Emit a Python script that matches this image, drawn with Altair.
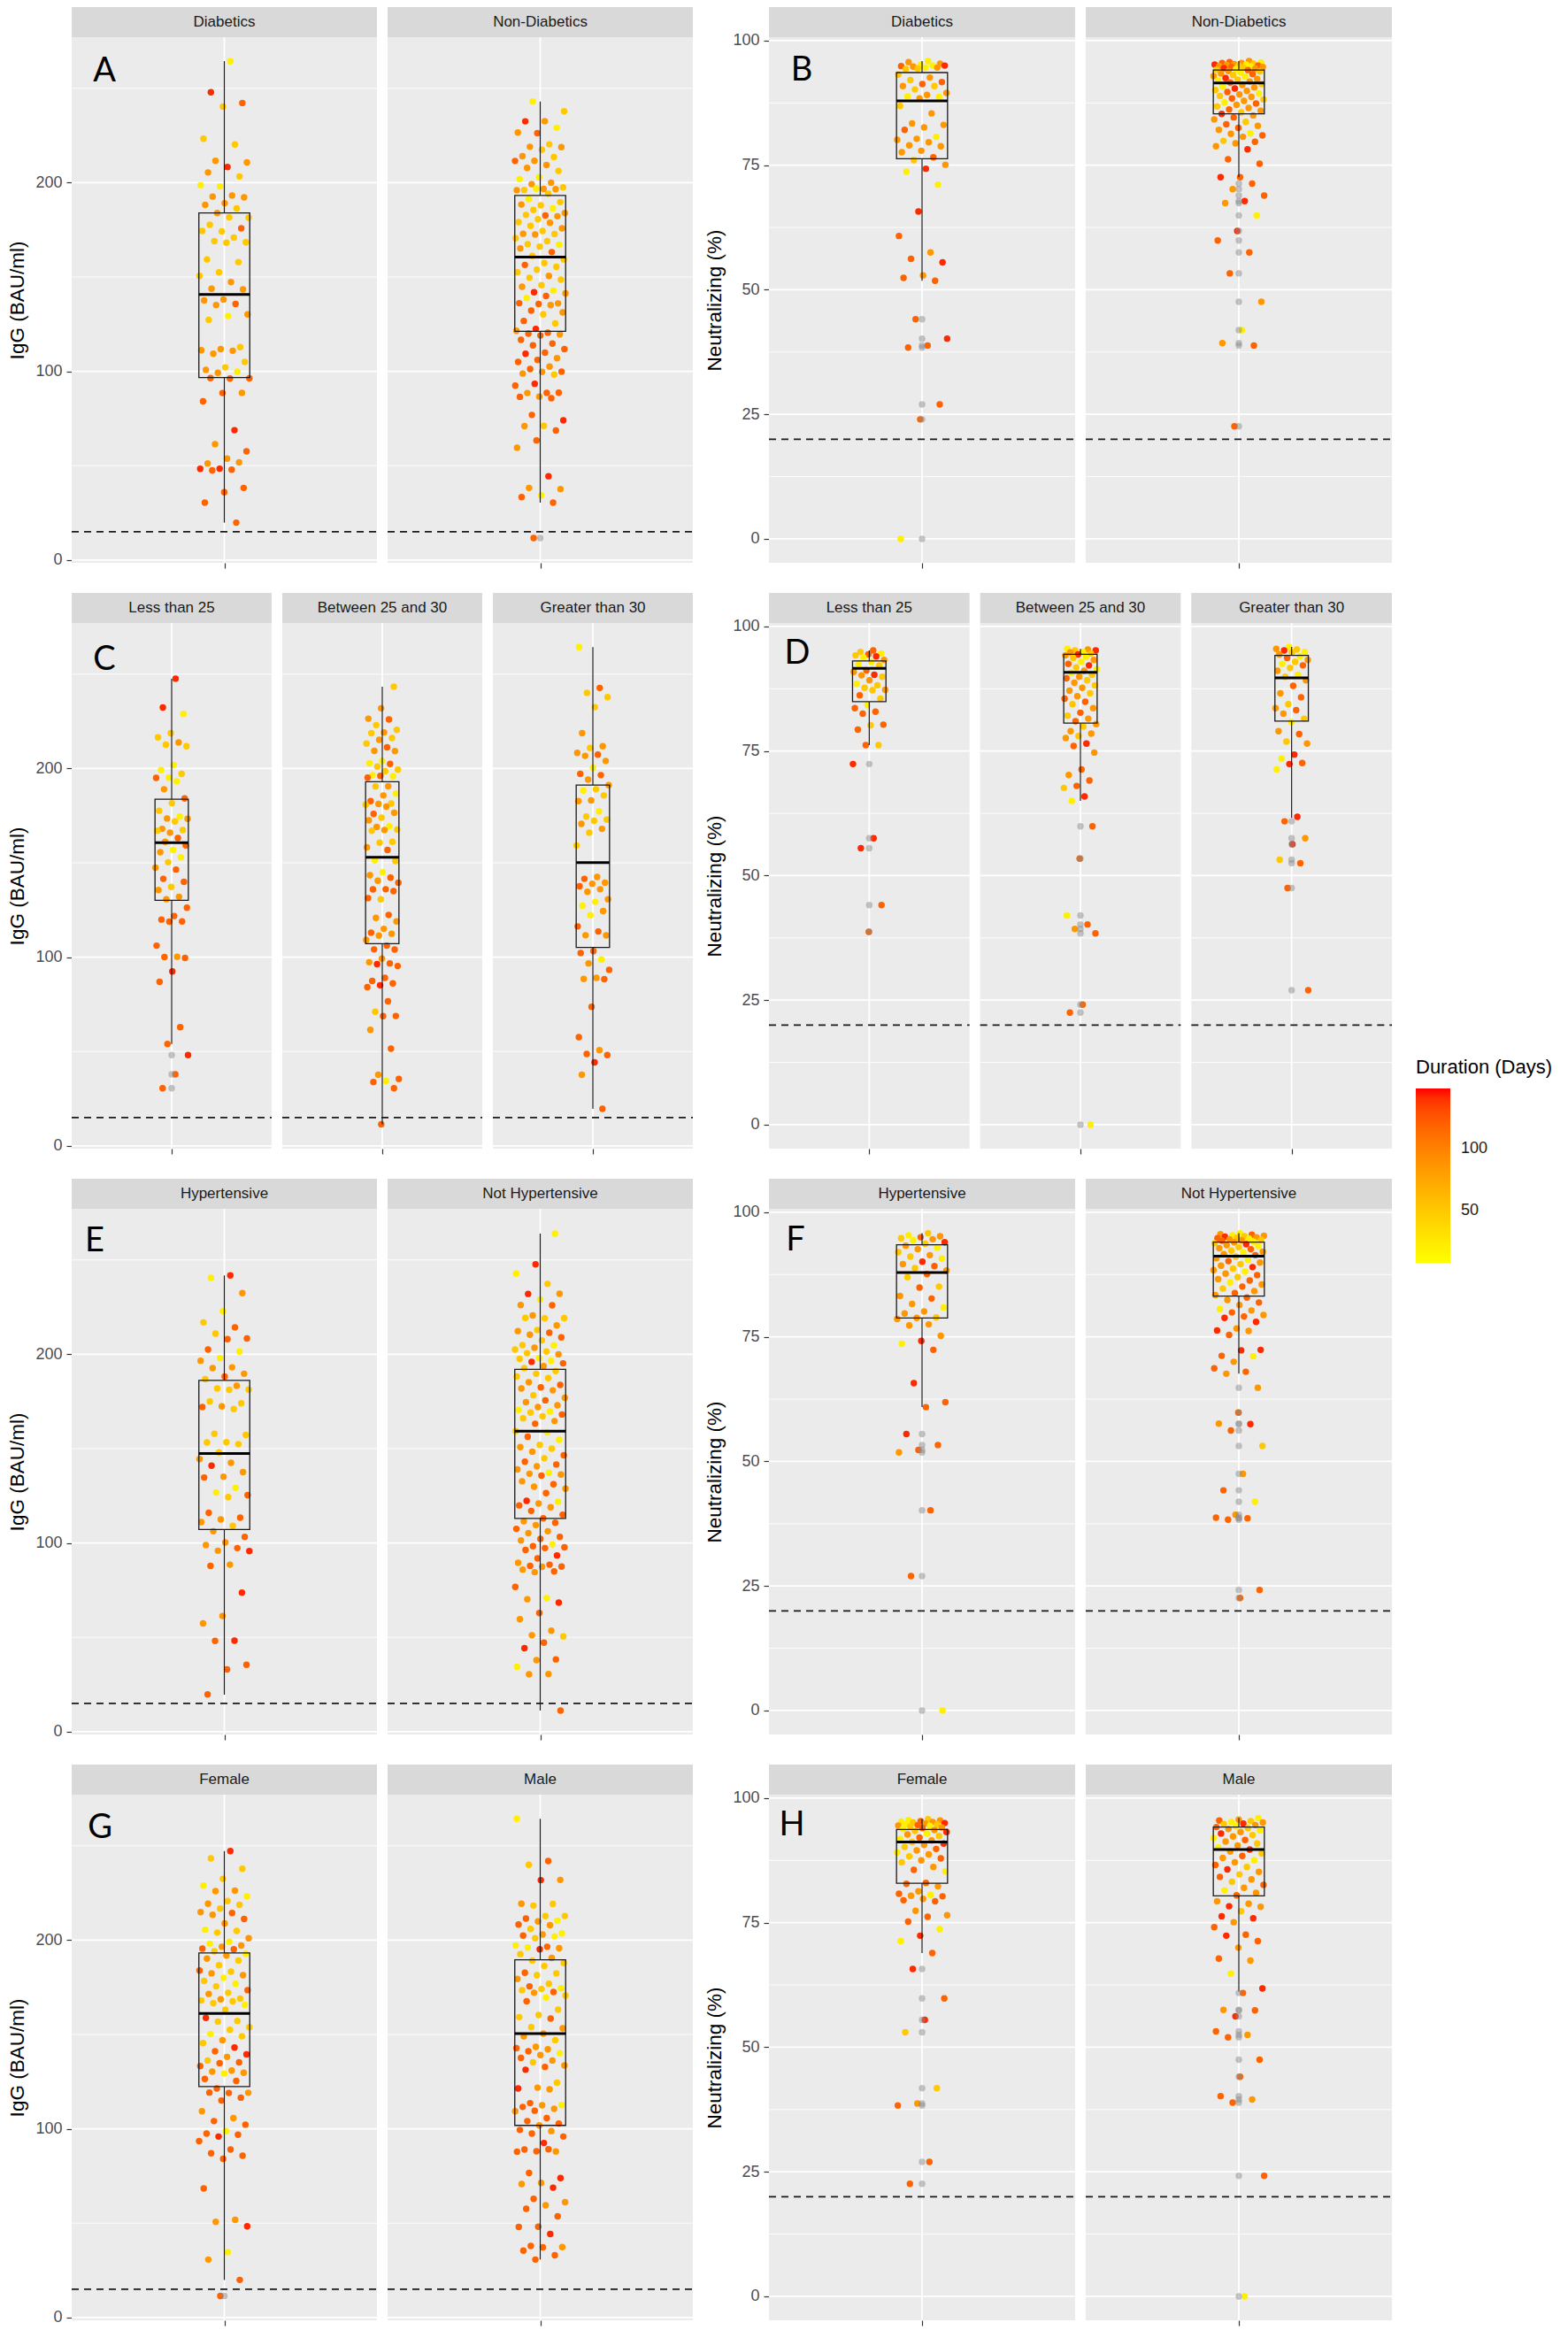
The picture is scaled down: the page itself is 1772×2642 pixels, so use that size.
import altair as alt
import pandas as pd

# duration colour classes (days)
Y, YO, O, RO, R = 20, 50, 85, 118, 142

# ---------------- A : IgG by diabetes ----------------
A_GROUPS = ["Diabetics", "Non-Diabetics"]
A_DIA = [(264.3,Y),(247.9,R),(242.2,RO),(240.3,YO),(223.3,YO),(220.2,YO),(211.6,O),(210.7,O),(208.3,R),(205.4,O),
         (203.3,YO),(198.0,Y),(198.6,Y),(193.2,O),(192.6,O),(192.2,O),(189.1,O),(188.2,O),(186.4,YO),(183.9,O),
         (181.4,YO),(181.6,YO),(177.7,YO),(175.8,RO),(174.2,YO),(174.4,YO),(170.9,YO),(169.0,YO),(168.4,YO),(168.2,YO),
         (159.3,YO),(157.9,YO),(152.5,YO),(150.6,YO),(147.3,O),(143.8,O),(143.4,O),(138.0,O),(137.6,O),(135.7,RO),
         (135.1,O),(130.2,O),(129.3,Y),(127.3,YO),(112.8,YO),(111.8,O),(111.2,O),(110.9,O),(109.3,O),(105.0,YO),
         (102.1,YO),(100.8,O),(99.8,Y),(99.2,O),(96.3,RO),(96.2,RO),(96.4,RO),(88.6,O),(88.5,RO),(84.1,RO),
         (68.8,R),(61.4,O),(57.6,RO),(53.7,O),(51.2,O),(51.7,O),(48.4,R),(48.3,R),(47.9,RO),(47.5,RO),
         (38.2,RO),(35.9,RO),(30.4,RO),(19.8,RO)]
A_NON = [(243.0,Y),(237.8,YO),(232.6,O),(232.5,R),(229.1,Y),(226.2,RO),(226.6,O),(220.3,YO),(219.0,O),(218.8,O),
         (217.4,YO),(214.0,O),(213.6,YO),(211.6,O),(211.5,RO),(209.3,O),(207.8,O),(206.2,YO),(202.9,Y),(201.9,Y),
         (200.0,O),(199.2,O),(197.5,YO),(196.7,O),(196.1,YO),(196.6,O),(196.8,Y),(196.0,O),(194.2,YO),(191.3,Y),
         (189.7,YO),(188.0,YO),(188.4,O),(186.4,Y),(185.5,YO),(183.9,O),(182.6,RO),(182.9,YO),(182.2,O),(180.6,YO),
         (179.1,YO),(178.7,O),(177.1,YO),(175.8,O),(174.4,YO),(172.9,O),(172.8,YO),(172.5,O),(170.5,YO),(169.0,YO),
         (167.4,YO),(167.1,Y),(166.1,YO),(165.1,O),(163.2,RO),(161.2,YO),(159.3,YO),(157.4,YO),(156.4,RO),(155.4,YO),
         (153.9,YO),(152.5,YO),(150.6,O),(149.6,YO),(148.6,YO),(145.7,YO),(144.8,O),(142.8,Y),(141.9,R),(141.3,O),
         (139.9,RO),(138.9,Y),(136.0,O),(135.7,RO),(136.1,RO),(135.1,O),(132.2,RO),(131.2,O),(130.2,YO),(126.7,RO),
         (125.4,YO),(122.5,R),(121.5,O),(120.5,RO),(120.0,RO),(119.6,O),(119.0,RO),(116.7,RO),(114.7,RO),(113.8,RO),
         (111.8,RO),(109.9,RO),(109.3,R),(107.0,O),(106.0,RO),(105.0,RO),(102.5,O),(101.2,RO),(99.8,RO),(99.7,O),
         (98.8,O),(98.3,YO),(93.4,R),(92.4,RO),(88.6,RO),(88.5,O),(88.7,RO),(86.6,O),(86.5,RO),(85.7,RO),
         (76.9,RO),(74.0,R),(71.1,YO),(71.0,O),(68.6,RO),(63.4,RO),(59.5,O),(44.4,R),(38.2,O),(37.6,O),
         (34.3,Y),(33.3,RO),(30.4,RO),(11.6,RO)]
# box statistics: (q1, median, q3, lower whisker, upper whisker)
A_BOX = [(96.7, 140.7, 183.9, 19.8, 264.4), (121.2, 160.5, 193.2, 30.4, 243.0)]

# ---------------- B : neutralizing by diabetes ----------------
B_DIA = [(95.9,Y),(95.7,O),(95.4,O),(95.1,Y),(94.9,RO),(95.0,Y),(94.8,O),(95.0,R),(94.6,Y),(94.3,YO),
         (94.6,O),(94.4,YO),(93.2,YO),(92.6,O),(92.1,YO),(91.7,RO),(91.3,RO),(90.9,O),(90.9,YO),(90.2,YO),
         (89.5,O),(89.1,O),(88.8,Y),(88.7,Y),(88.4,O),(86.9,YO),(85.4,O),(83.4,O),(83.1,O),(82.6,O),
         (82.1,RO),(80.7,Y),(80.3,O),(80.1,O),(79.6,O),(79.0,O),(78.8,O),(77.9,O),(77.6,O),(76.6,RO),
         (76.0,YO),(75.1,O),(74.3,R),(73.7,Y),(71.1,Y),(65.7,R),(60.8,RO),(57.5,O),(56.2,RO),(55.5,R),
         (52.9,O),(52.4,RO),(51.8,RO),(44.1,RO),(40.2,R),(38.8,RO),(38.4,RO),(27.0,RO),(24.0,RO),(0.0,Y)]
B_NON = [(95.9,O),(95.7,RO),(95.6,Y),(95.5,O),(95.5,RO),(95.4,YO),(95.3,O),(95.2,R),(95.2,Y),(95.1,O),
         (95.0,RO),(95.0,YO),(94.9,O),(94.8,Y),(94.7,RO),(94.7,O),(94.6,YO),(94.5,R),(94.4,O),(94.3,Y),
         (94.2,YO),(94.1,RO),(93.9,O),(93.8,YO),(93.6,Y),(93.4,O),(93.3,RO),(93.1,YO),(92.9,O),(92.8,Y),
         (92.5,R),(92.3,O),(92.2,YO),(92.0,Y),(91.8,O),(91.6,RO),(91.3,YO),(91.1,O),(90.8,Y),(90.6,O),
         (90.4,R),(90.1,YO),(89.9,O),(89.7,RO),(89.4,Y),(89.2,O),(88.9,YO),(88.7,O),(88.4,RO),(88.2,YO),
         (87.9,O),(87.6,Y),(87.4,RO),(87.1,O),(86.8,YO),(86.5,O),(86.2,RO),(85.9,O),(85.6,YO),(85.3,R),
         (85.0,O),(84.6,RO),(84.2,O),(83.7,YO),
         (83.2,RO),(82.9,O),(82.5,RO),(82.1,O),(81.4,Y),(81.3,O),(81.0,RO),(80.7,O),(79.9,YO),(79.7,RO),
         (79.4,O),(78.8,O),(78.2,R),(76.2,RO),(75.3,RO),(72.6,RO),(72.6,R),(71.3,RO),(70.2,O),(68.9,RO),
         (67.8,R),(67.4,O),(64.9,Y),(61.8,R),(59.9,RO),(57.5,RO),(53.3,RO),(47.6,O),(41.9,Y),(39.3,O),
         (38.8,RO),(22.6,RO)]
B_BOX = [(76.3, 87.9, 93.6, 51.8, 95.9), (85.3, 91.5, 94.1, 72.6, 95.9)]

# ---------------- C : IgG by BMI ----------------
C_GROUPS = ["Less than 25", "Between 25 and 30", "Greater than 30"]
C_LT25 = [(247.6,R),(232.3,R),(228.9,Y),(218.7,YO),(216.5,YO),(213.8,O),(212.6,YO),(211.8,YO),(201.8,Y),(199.1,Y),
          (197.1,YO),(195.1,Y),(195.0,RO),(193.2,Y),(189.0,O),(184.1,RO),(181.6,YO),(177.6,YO),(174.5,Y),(173.5,O),
          (173.3,O),(171.9,YO),(168.0,O),(167.4,YO),(166.0,O),(167.0,YO),(163.1,RO),(161.1,O),(159.2,RO),(156.8,Y),
          (155.6,O),(152.9,Y),(150.3,YO),(147.4,O),(146.4,RO),(141.5,RO),(139.9,RO),(137.2,YO),(135.6,O),(132.0,O),
          (130.7,O),(126.2,RO),(121.8,RO),(119.9,RO),(118.9,RO),(118.8,RO),(106.1,RO),(100.2,O),(100.1,RO),(99.6,RO),
          (92.4,R),(86.9,RO),(62.9,RO),(54.0,RO),(48.1,R),(37.9,RO),(30.5,RO)]
C_MID = [(243.3,YO),(231.9,O),(226.4,O),(226.0,RO),(223.0,YO),(220.5,YO),(219.1,O),(218.7,YO),(216.1,YO),(215.2,O),
         (213.2,YO),(211.2,RO),(209.3,O),(209.2,O),(204.0,Y),(202.8,Y),(202.4,RO),(201.0,YO),(199.4,YO),(198.5,YO),
         (196.5,Y),(195.9,Y),(196.1,RO),(195.1,RO),(190.6,O),(190.5,YO),(186.7,Y),(185.7,O),(182.7,RO),(181.4,YO),
         (181.2,O),(180.8,YO),(179.8,O),(175.9,RO),(176.5,O),(173.9,YO),(172.5,O),(169.4,Y),(169.0,O),(167.6,YO),
         (167.4,O),(167.0,YO),(161.1,YO),(160.7,YO),(158.2,O),(156.8,RO),(151.3,Y),(150.9,YO),(145.0,Y),(143.4,O),
         (142.1,RO),(140.5,O),(139.5,RO),(136.0,RO),(135.9,RO),(135.0,RO),(130.7,YO),(131.3,RO),(122.4,RO),(120.8,O),
         (118.9,O),(115.0,O),(113.0,RO),(112.4,O),(111.4,O),(109.1,O),(106.1,RO),(104.1,RO),(104.0,RO),(99.2,O),
         (97.3,O),(96.7,RO),(96.3,R),(95.3,RO),(89.0,RO),(87.4,RO),(86.1,RO),(85.1,R),(84.1,RO),(76.6,RO),
         (71.1,YO),(68.8,RO),(68.7,RO),(61.5,O),(51.5,RO),(37.7,O),(35.4,RO),(34.4,Y),(33.8,RO),(30.5,RO),
         (11.4,RO)]
C_GT30 = [(264.3,Y),(242.7,RO),(240.1,YO),(237.8,YO),(232.5,YO),(218.7,O),(211.8,O),(210.9,YO),(208.3,O),(207.3,RO),
          (206.7,O),(204.0,O),(200.4,Y),(197.1,RO),(196.5,RO),(194.1,O),(191.2,O),(189.0,YO),(188.3,Y),(185.7,YO),
          (183.1,O),(182.7,O),(177.2,Y),(174.5,YO),(172.9,YO),(172.3,YO),(170.6,O),(168.0,O),(166.0,YO),(159.2,YO),
          (142.5,O),(141.5,RO),(139.5,O),(138.9,O),(137.6,RO),(136.0,O),(134.6,O),(130.7,O),(129.3,Y),(127.3,Y),
          (124.4,O),(122.2,Y),(116.3,RO),(113.6,RO),(111.6,O),(111.5,O),(103.2,RO),(102.2,RO),(98.8,Y),(96.7,O),
          (93.3,RO),(89.0,O),(88.4,O),(88.3,RO),(73.7,RO),(57.6,RO),(50.7,O),(48.7,RO),(48.1,RO),(44.2,R),
          (37.7,O),(19.6,RO)]
C_BOX = [(130.1, 160.7, 183.7, 54.0, 247.6), (107.1, 152.9, 193.0, 11.4, 243.3), (105.1, 150.1, 191.2, 19.6, 264.3)]

# ---------------- D : neutralizing by BMI ----------------
D_LT25 = [(95.2,RO),(94.9,YO),(94.6,Y),(94.4,RO),(94.2,YO),(94.0,R),(93.8,Y),(93.3,O),(92.9,Y),(92.5,Y),
          (92.2,YO),(91.2,RO),(90.9,O),(90.3,R),(90.2,O),(89.9,YO),(89.2,O),(88.5,Y),(88.2,YO),(87.7,YO),
          (87.3,O),(87.2,YO),(86.2,RO),(85.5,YO),(84.2,Y),(83.6,RO),(82.9,RO),(82.5,RO),(80.3,RO),(80.2,YO),
          (79.3,RO),(76.2,YO),(76.2,RO),(72.4,R),(57.5,R),(55.5,R),(44.1,RO),(38.7,RO)]
D_MID = [(95.5,Y),(95.4,O),(95.2,YO),(95.2,R),(94.9,Y),(94.8,O),(94.6,YO),(94.4,R),(94.2,O),(93.9,Y),
         (93.7,YO),(93.3,O),(92.9,Y),(92.5,RO),(92.2,R),(91.8,YO),(91.4,Y),(91.1,O),(90.7,Y),(90.3,YO),
         (89.9,O),(89.6,RO),(89.2,YO),(88.7,O),(88.2,YO),(87.7,O),(87.1,O),(86.6,YO),(86.0,O),(85.5,RO),
         (84.9,RO),(84.4,YO),(83.6,O),(82.7,RO),(82.1,YO),(81.5,O),(81.0,RO),(80.4,O),(79.9,YO),(79.0,O),
         (78.5,O),(78.0,YO),(77.6,O),(76.5,R),(76.0,RO),
         (74.7,O),(71.3,RO),(70.2,O),(69.1,RO),(68.0,RO),(67.6,YO),(65.9,R),(65.0,Y),(59.9,RO),(53.4,RO),
         (42.0,Y),(40.2,RO),(39.3,O),(38.4,RO),(24.1,RO),(22.5,RO),(0.0,Y)]
D_GT30 = [(95.9,Y),(95.5,O),(95.4,YO),(95.2,R),(94.9,Y),(94.8,YO),(94.4,O),(94.0,Y),(93.7,RO),(93.3,O),
          (92.9,YO),(92.5,Y),(92.2,RO),(91.7,YO),(91.1,O),(90.3,Y),(89.9,YO),(89.2,O),(88.1,RO),(86.6,O),
          (85.8,RO),(84.4,YO),(83.6,O),(83.2,RO),(82.5,O),(81.5,YO),(80.8,Y),
          (79.0,O),(78.4,RO),(76.9,YO),(76.5,O),(74.3,R),(73.5,Y),(72.6,RO),(72.4,R),(71.3,Y),(61.8,R),
          (60.9,RO),(57.5,O),(56.3,R),(53.2,YO),(52.5,RO),(47.5,RO),(27.0,RO)]
D_BOX = [(84.9, 91.6, 93.1, 76.2, 95.2), (80.6, 90.8, 94.4, 65.0, 95.5), (81.0, 89.7, 94.2, 61.6, 95.9)]

# ---------------- E : IgG by hypertension ----------------
E_GROUPS = ["Hypertensive", "Not Hypertensive"]
E_HYP = [(241.8,R),(240.5,Y),(232.4,O),(222.8,Y),(216.9,YO),(214.3,RO),(211.0,YO),(208.4,RO),(208.0,RO),(202.5,RO),
         (201.5,Y),(198.0,Y),(196.6,O),(193.1,O),(192.7,O),(189.7,O),(188.2,RO),(186.8,YO),(183.3,O),(181.9,YO),
         (181.3,YO),(181.2,YO),(175.0,YO),(174.0,YO),(172.4,O),(172.0,RO),(171.0,YO),(157.9,YO),(157.3,YO),(153.4,YO),
         (153.3,YO),(152.4,YO),(148.0,YO),(144.5,O),(142.5,O),(141.0,R),(137.6,O),(135.1,O),(134.7,RO),(129.2,Y),
         (126.8,Y),(125.4,RO),(124.3,YO),(116.0,RO),(113.4,RO),(112.5,O),(111.1,O),(109.1,YO),(106.2,O),(103.2,RO),
         (100.3,O),(98.9,O),(97.3,RO),(95.9,O),(95.7,R),(88.5,O),(87.9,RO),(73.7,R),(61.3,O),(57.4,O),
         (48.2,R),(48.1,RO),(35.4,RO),(33.0,RO),(19.7,RO)]
E_NOT = [(264.0,Y),(247.7,R),(242.8,Y),(237.3,YO),(232.0,R),(232.1,O),(229.1,Y),(226.1,O),(226.0,RO),(220.6,O),
         (219.2,YO),(219.1,YO),(219.3,YO),(215.3,O),(212.9,YO),(212.3,O),(211.4,RO),(210.4,O),(209.0,RO),(207.4,YO),
         (204.9,YO),(204.8,Y),(203.5,O),(202.5,YO),(201.5,YO),(200.6,YO),(200.0,O),(198.0,Y),(197.6,YO),(196.6,Y),
         (196.0,R),(195.2,RO),(193.7,O),(192.7,YO),(191.1,YO),(189.7,YO),(188.2,YO),(187.4,YO),(185.2,O),(183.8,RO),
         (182.5,RO),(181.9,O),(180.9,O),(178.3,YO),(177.0,O),(175.6,RO),(174.6,O),(173.0,O),(172.0,O),(170.5,Y),
         (169.7,Y),(169.1,YO),(168.1,RO),(167.1,YO),(166.1,YO),(164.6,O),(163.2,RO),(159.3,YO),(158.7,Y),(156.3,RO),
         (154.7,Y),(152.0,YO),(150.8,O),(150.0,YO),(148.4,O),(146.5,RO),(144.9,YO),(143.1,RO),(141.6,RO),(140.6,O),
         (139.0,O),(137.2,Y),(136.7,O),(136.3,O),(135.7,RO),(132.7,O),(131.1,RO),(129.8,O),(128.8,O),(126.4,RO),
         (122.3,R),(121.9,Y),(120.9,O),(119.9,RO),(118.9,O),(117.0,RO),(115.0,RO),(113.1,RO),(111.5,O),(110.7,RO),
         (109.5,O),(107.5,RO),(106.2,O),(105.2,O),(103.2,RO),(102.2,RO),(101.3,O),(99.3,Y),(98.3,RO),(97.7,RO),
         (97.3,RO),(96.3,RO),(93.4,R),(91.8,RO),(89.5,O),(88.5,RO),(87.9,RO),(87.5,RO),(87.4,O),(85.9,O),
         (84.9,RO),(84.5,O),(76.7,RO),(70.8,Y),(70.2,O),(68.4,R),(62.9,RO),(59.6,O),(53.5,O),(51.1,O),
         (50.5,YO),(47.2,RO),(44.2,R),(38.3,RO),(37.9,O),(34.4,Y),(30.5,O),(30.4,O),(11.2,RO)]
E_BOX = [(107.1, 147.4, 186.2, 19.6, 241.8), (113.0, 159.3, 192.0, 11.2, 264.0)]

# ---------------- F : neutralizing by hypertension ----------------
F_HYP = [(95.8,YO),(95.4,Y),(95.2,O),(95.0,RO),(94.8,YO),(94.6,O),(94.4,Y),(94.0,R),(93.7,YO),(93.3,O),
         (92.9,Y),(92.6,O),(92.0,YO),(91.4,O),(91.1,YO),(90.7,Y),(90.1,R),(89.6,O),(89.2,RO),(88.8,YO),
         (88.3,O),(87.6,RO),(87.0,YO),(85.1,YO),(84.9,RO),(83.2,O),(82.7,RO),(81.6,O),(80.9,Y),(80.1,O),
         (79.7,O),(78.9,YO),(78.8,O),(78.6,O),(77.5,O),(77.3,O),(75.2,O),(74.2,R),(73.6,Y),(72.4,RO),
         (65.7,R),(61.9,RO),(60.9,RO),(55.5,R),(53.3,RO),(52.3,RO),(51.8,O),(40.2,RO),(27.0,RO),(0.0,Y)]
F_NOT = [(95.8,Y),(95.6,O),(95.5,RO),(95.4,Y),(95.3,O),(95.2,YO),(95.1,R),(95.0,O),(94.9,YO),(94.8,RO),
         (94.7,Y),(94.6,O),(94.5,YO),(94.4,O),(94.3,RO),(94.1,Y),(94.0,O),(93.8,YO),(93.6,R),(93.4,O),
         (93.2,Y),(93.0,YO),(92.8,O),(92.6,RO),(92.3,YO),(92.1,O),(91.9,Y),(91.6,O),(91.4,RO),(91.1,YO),
         (90.8,O),(90.5,Y),(90.2,RO),(89.9,O),(89.6,YO),(89.3,O),(89.0,R),(88.7,YO),(88.4,O),(88.1,Y),
         (87.7,O),(87.4,RO),(87.0,YO),(86.6,O),(86.3,RO),(85.9,Y),(85.5,O),(85.1,RO),(84.7,YO),(84.2,O),
         (83.8,RO),(83.4,O),
         (82.9,RO),(82.4,O),(81.9,RO),(81.4,O),(80.6,Y),(80.3,O),(79.9,RO),(79.4,O),(79.1,RO),(78.8,R),
         (78.0,R),(76.7,O),(76.3,R),(76.2,O),(75.4,RO),(72.4,R),(72.3,R),(71.2,RO),(71.1,Y),(70.0,O),
         (68.7,RO),(68.0,RO),(67.6,O),(64.8,O),(59.8,RO),(57.6,O),(57.5,R),(56.2,RO),(53.1,YO),(47.5,O),
         (44.2,RO),(41.9,Y),(39.3,O),(38.7,RO),(38.6,RO),(38.3,RO),(24.2,RO),(22.6,RO)]
F_BOX = [(78.8, 87.9, 93.5, 60.9, 95.8), (83.2, 91.2, 94.0, 67.6, 95.8)]

# ---------------- G : IgG by sex ----------------
G_GROUPS = ["Female", "Male"]
G_FEM = [(247.2,R),(243.3,YO),(237.8,YO),(232.5,YO),(228.9,Y),(226.2,O),(226.0,O),(223.2,Y),(220.7,YO),(219.3,O),
         (218.7,YO),(216.7,YO),(214.8,O),(214.4,RO),(213.4,O),(211.2,RO),(208.9,O),(205.5,Y),(204.9,YO),(204.0,YO),
         (201.0,O),(199.1,Y),(198.1,Y),(197.1,O),(196.5,O),(195.5,RO),(195.1,RO),(194.1,YO),(192.8,Y),(191.8,O),
         (190.2,O),(189.2,YO),(186.7,YO),(183.9,RO),(183.3,YO),(182.4,O),(181.4,O),(180.0,Y),(178.4,YO),(176.9,Y),
         (175.5,YO),(173.5,RO),(172.1,YO),(171.5,O),(169.0,YO),(168.6,O),(168.0,YO),(167.6,YO),(166.6,YO),(165.7,Y),
         (163.1,YO),(158.8,R),(157.2,YO),(156.8,YO),(153.9,YO),(152.5,YO),(150.3,Y),(149.0,YO),(147.0,O),(145.4,YO),
         (143.1,R),(141.1,RO),(139.5,R),(138.1,O),(136.2,YO),(135.2,RO),(134.8,RO),(133.2,RO),(130.9,O),(130.3,O),
         (129.7,O),(129.3,Y),(126.4,RO),(125.4,RO),(121.4,RO),(119.1,O),(119.0,RO),(119.2,RO),(116.5,RO),(115.0,RO),
         (109.3,O),(105.7,O),(104.1,RO),(102.2,RO),(98.8,Y),(97.5,RO),(96.9,RO),(95.9,R),(93.5,RO),(89.0,RO),
         (87.0,RO),(85.7,RO),(84.1,RO),(68.4,RO),(51.7,O),(50.7,O),(48.3,R),(34.6,Y),(30.7,O),(19.9,RO),
         (11.4,RO)]
G_MAL = [(264.3,Y),(241.9,RO),(239.9,YO),(231.9,O),(231.8,R),(219.3,O),(219.2,YO),(218.3,YO),(212.8,YO),(212.7,YO),
         (211.4,RO),(210.3,Y),(209.9,O),(208.3,RO),(207.9,O),(205.9,YO),(203.6,Y),(203.0,O),(202.4,RO),(202.0,Y),
         (201.0,YO),(197.1,Y),(196.5,RO),(196.1,Y),(195.7,O),(195.1,R),(192.6,YO),(190.6,O),(189.2,YO),(187.9,YO),
         (186.3,YO),(182.7,RO),(182.4,YO),(181.4,YO),(179.4,O),(176.9,YO),(175.5,RO),(174.5,Y),(174.1,YO),(173.5,YO),
         (172.5,RO),(172.1,O),(170.6,YO),(169.6,Y),(167.6,RO),(163.1,YO),(160.3,YO),(159.2,YO),(158.4,RO),(153.9,YO),
         (153.3,O),(150.5,O),(149.0,O),(147.0,YO),(143.4,O),(142.7,RO),(142.1,O),(141.1,RO),(140.1,Y),(139.1,O),
         (137.6,RO),(136.2,O),(135.2,YO),(133.6,O),(132.8,RO),(131.3,R),(124.4,YO),(121.8,O),(121.4,R),(120.9,O),
         (113.6,RO),(112.6,Y),(112.5,O),(111.6,RO),(110.6,O),(109.6,RO),(109.3,O),(105.7,RO),(104.1,RO),(102.8,RO),
         (101.8,O),(99.4,RO),(98.8,O),(97.5,RO),(95.9,RO),(92.5,R),(89.0,RO),(88.0,O),(88.1,RO),(87.9,RO),
         (89.1,RO),(76.6,RO),(73.9,R),(71.3,O),(70.7,O),(68.8,R),(62.9,RO),(61.1,O),(59.5,O),(57.6,RO),
         (53.6,RO),(48.1,RO),(48.0,RO),(44.2,R),(37.9,RO),(37.3,O),(37.2,RO),(35.4,RO),(33.0,RO),(30.7,RO)]
G_BOX = [(122.4, 161.1, 193.2, 19.9, 247.2), (101.8, 150.5, 189.6, 30.7, 264.3)]

# ---------------- H : neutralizing by sex ----------------
H_FEM = [(95.8,YO),(95.6,Y),(95.5,O),(95.4,RO),(95.3,Y),(95.2,O),(95.1,YO),(95.0,R),(94.9,O),(94.8,Y),
         (94.7,YO),(94.6,RO),(94.5,O),(94.4,Y),(94.3,YO),(94.1,O),(94.0,RO),(93.8,Y),(93.6,O),(93.4,YO),
         (93.2,R),(92.9,Y),(92.7,O),(92.4,YO),(92.1,RO),(91.8,Y),(91.5,O),(91.2,YO),(90.9,R),(90.6,O),
         (90.2,YO),(89.8,RO),(89.5,O),(89.1,Y),(88.7,O),(88.3,YO),(87.9,RO),(87.5,O),(87.1,YO),
         (86.2,O),(85.6,RO),(85.3,Y),(83.0,RO),(82.8,RO),(82.3,O),(81.3,O),(80.8,RO),(80.6,Y),(80.4,O),
         (80.3,RO),(79.8,O),(79.5,RO),(79.3,RO),(77.4,O),(76.5,O),(76.2,RO),(75.2,RO),(73.7,Y),(72.4,R),
         (71.3,Y),(68.9,RO),(65.7,R),(59.8,RO),(55.5,R),(53.0,YO),(41.8,YO),(38.7,O),(38.3,RO),(27.0,RO),
         (22.6,RO)]
H_MAL = [(96.0,Y),(95.7,O),(95.5,RO),(95.4,YO),(95.2,Y),(95.1,O),(94.9,R),(94.8,YO),(94.6,O),(94.4,Y),
         (94.2,RO),(94.0,YO),(93.8,O),(93.5,Y),(93.2,O),(92.9,R),(92.6,YO),(92.3,O),(92.0,Y),(91.6,RO),
         (91.3,O),(90.9,YO),(90.5,O),(90.1,Y),(89.7,R),(89.3,O),(88.9,YO),(88.4,RO),(88.0,O),(87.5,Y),
         (87.1,O),(86.6,RO),(86.2,YO),(85.7,R),(85.2,O),(84.7,YO),(84.2,RO),(83.7,O),(83.2,YO),(82.6,RO),
         (82.0,O),(81.5,Y),(81.0,O),(80.5,RO),
         (79.3,O),(78.8,O),(78.3,R),(78.2,O),(77.3,YO),(76.3,R),(75.9,R),(75.1,O),(74.1,RO),(72.6,RO),
         (72.4,R),(71.3,RO),(70.0,O),(67.8,RO),(67.4,O),(64.8,Y),(61.8,R),(60.9,RO),(57.5,O),(57.4,RO),
         (56.2,R),(53.2,RO),(52.5,O),(52.0,RO),(47.5,RO),(44.1,RO),(40.2,RO),(39.5,O),(38.9,RO),(24.2,RO),
         (0.0,Y)]
H_BOX = [(82.9, 91.2, 93.7, 68.9, 95.8), (80.4, 89.7, 94.2, 61.2, 96.0)]

# ---------------- axes ----------------
IGG = dict(domain=[-1.5, 277.1], major=[0, 100, 200], minor=[50, 150, 250], cut=15, title="IgG (BAU/ml)")
NEU = dict(domain=[-4.8, 100.7], major=[0, 25, 50, 75, 100], minor=[12.5, 37.5, 62.5, 87.5], cut=20,
           title="Neutralizing (%)")
DUR_DOMAIN = [8, 148]
LEGEND_TICKS = [50, 100]

# ---------------- layout / style ----------------
FONT = "Liberation Sans"
H = 628
STRIP = 34
GAP = 12
WL = 702
WR = 704
LEG_X = 1519
LEG_Y = 1188

cscale = alt.Scale(domain=DUR_DOMAIN, range=["#FFFF00", "#FF0000"], interpolate="lab")
legend = alt.Legend(title="Duration (Days)", orient="none", legendX=LEG_X, legendY=LEG_Y, direction="vertical",
                    values=LEGEND_TICKS, gradientLength=197, gradientThickness=39, gradientStrokeWidth=0,
                    titleFontSize=22, titleFontWeight="normal", titleColor="#000000", titleFont=FONT,
                    labelFontSize=18, labelColor="#1A1A1A", labelFont=FONT, titlePadding=12,
                    labelOffset=12, padding=0)


def figure(letter, groups, series, boxes, kind, width, lpos):
    n = len(groups)
    p = (width - (n - 1) * GAP) / n
    unit = p + GAP
    pw = p / unit
    half = (0.1 / 1.2) * p / unit
    lo, hi = kind["domain"]

    xs = alt.Scale(domain=[-pw / 2, n - 1 + pw / 2], nice=False, zero=False)
    ys = alt.Scale(domain=[lo, hi], range=[H, STRIP], nice=False, zero=False)
    xax = alt.Axis(values=list(range(n)), labels=False, domain=False, grid=False, title=None, ticks=True,
                   tickSize=6, tickColor="#333333", tickWidth=1.2)
    yax = alt.Axis(values=kind["major"], grid=False, domain=False, title=kind["title"], ticks=True, tickSize=6,
                   tickColor="#333333", tickWidth=1.2, labelColor="#4D4D4D", labelFontSize=18,
                   labelPadding=5, labelFont=FONT, titleFontSize=22.5, titleColor="#000000",
                   titleFontWeight="normal", titlePadding=8, titleFont=FONT)

    def X(f):
        return alt.X(f + ":Q", scale=xs, axis=xax)

    def Yq(f):
        return alt.Y(f + ":Q", scale=ys, axis=yax)

    panels = pd.DataFrame({"g": list(range(n)), "label": groups})
    panels["x0"] = panels["g"] - pw / 2
    panels["x1"] = panels["g"] + pw / 2
    panels["lo"] = lo
    panels["hi"] = hi
    panels["cut"] = kind["cut"]

    major = pd.DataFrame([{"x0": g - pw / 2, "x1": g + pw / 2, "v": v} for g in range(n) for v in kind["major"]])
    minor = pd.DataFrame([{"x0": g - pw / 2, "x1": g + pw / 2, "v": v} for g in range(n) for v in kind["minor"]])

    pts = pd.DataFrame([{"g": g, "v": v, "d": d} for g, lst in enumerate(series) for v, d in lst])
    box = pd.DataFrame([{"g": g, "q1": b[0], "med": b[1], "q3": b[2], "wlo": b[3], "whi": b[4],
                         "b0": g - half, "b1": g + half} for g, b in enumerate(boxes)])
    outl = pd.DataFrame([{"g": g, "v": v} for g, lst in enumerate(series) for v, d in lst
                         if v < boxes[g][3] - 1e-9 or v > boxes[g][4] + 1e-9])

    layers = [
        alt.Chart(panels).mark_rect(color="#EBEBEB").encode(x=X("x0"), x2="x1", y=Yq("lo"), y2="hi"),
        alt.Chart(minor).mark_rule(color="#FFFFFF", strokeWidth=0.9).encode(x=X("x0"), x2="x1", y=Yq("v")),
        alt.Chart(major).mark_rule(color="#FFFFFF", strokeWidth=1.8).encode(x=X("x0"), x2="x1", y=Yq("v")),
        alt.Chart(panels).mark_rule(color="#FFFFFF", strokeWidth=1.8).encode(x=X("g"), y=Yq("lo"), y2="hi"),
        alt.Chart(panels).mark_rect(color="#D9D9D9").encode(x=X("x0"), x2="x1", y=alt.value(0),
                                                           y2=alt.value(STRIP)),
        alt.Chart(panels).mark_text(font=FONT, fontSize=17, color="#1A1A1A", baseline="middle",
                                    align="center").encode(x=X("g"), y=alt.value(STRIP / 2), text="label:N"),
        alt.Chart(panels).mark_rule(color="#1A1A1A", strokeDash=[8, 6], strokeWidth=1.8).encode(
            x=X("x0"), x2="x1", y=Yq("cut")),
        alt.Chart(pts).transform_window(rn="row_number()").transform_calculate(
            xj="datum.g + %.6f * (2 * ((datum.rn * 0.6180339887) %% 1) - 1)" % half
        ).mark_circle(size=55, opacity=1).encode(
            x=X("xj"), y=Yq("v"), color=alt.Color("d:Q", scale=cscale, legend=legend)),
        alt.Chart(box).mark_rule(color="#1A1A1A", strokeWidth=1.2).encode(x=X("g"), y=Yq("wlo"), y2="q1"),
        alt.Chart(box).mark_rule(color="#1A1A1A", strokeWidth=1.2).encode(x=X("g"), y=Yq("q3"), y2="whi"),
        alt.Chart(box).mark_rect(fill="transparent", stroke="#1A1A1A", strokeWidth=1.3).encode(
            x=X("b0"), x2="b1", y=Yq("q1"), y2="q3"),
        alt.Chart(box).mark_rule(color="#000000", strokeWidth=3).encode(x=X("b0"), x2="b1", y=Yq("med")),
    ]
    if len(outl):
        layers.append(alt.Chart(outl).mark_circle(size=55, color="#8C8C8C", opacity=0.5).encode(
            x=X("g"), y=Yq("v")))
    layers.append(alt.Chart(pd.DataFrame({"t": [letter]})).mark_text(
        font="Lato", fontSize=38, color="#000000", align="center", baseline="middle").encode(
        x=alt.value(lpos[0]), y=alt.value(lpos[1]), text="t:N"))
    return alt.layer(*layers).properties(width=width, height=H)


figs = [
    figure("A", A_GROUPS, [A_DIA, A_NON], A_BOX, IGG, WL, (37, 73)),
    figure("B", A_GROUPS, [B_DIA, B_NON], B_BOX, NEU, WR, (37, 72)),
    figure("C", C_GROUPS, [C_LT25, C_MID, C_GT30], C_BOX, IGG, WL, (37, 76)),
    figure("D", C_GROUPS, [D_LT25, D_MID, D_GT30], D_BOX, NEU, WR, (32, 69)),
    figure("E", E_GROUPS, [E_HYP, E_NOT], E_BOX, IGG, WL, (26, 71)),
    figure("F", E_GROUPS, [F_HYP, F_NOT], F_BOX, NEU, WR, (30, 70)),
    figure("G", G_GROUPS, [G_FEM, G_MAL], G_BOX, IGG, WL, (32, 72)),
    figure("H", G_GROUPS, [H_FEM, H_MAL], H_BOX, NEU, WR, (26, 69)),
]

chart = alt.concat(*figs, columns=2, spacing={"row": 34, "column": 86}, bounds="flush").properties(
    padding=0, background="#FFFFFF"
).configure(font=FONT).configure_view(strokeWidth=0).configure_axis(
    labelFontSize=18, titleFontSize=22.5, labelFont=FONT, titleFont=FONT, titleFontWeight="normal"
)

chart.save("out.html", embed_options={"renderer": "svg", "actions": False})
